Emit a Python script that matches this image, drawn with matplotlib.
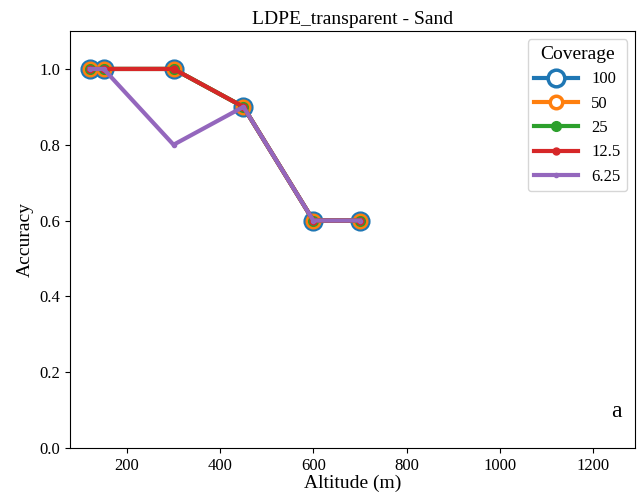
import numpy as np
import matplotlib
matplotlib.use("Agg")
import matplotlib.pyplot as plt

plt.rcParams['font.family'] = ['Liberation Serif', 'DejaVu Serif']

# data
altitude = [120, 150, 300, 450, 600, 700]
coverage = ['100', '50', '25', '12.5', '6.25']
acc_100 = [1.0, 1.0, 1.0, 0.9, 0.6, 0.6]
acc_50 = [1.0, 1.0, 1.0, 0.9, 0.6, 0.6]
acc_25 = [1.0, 1.0, 1.0, 0.9, 0.6, 0.6]
acc_12_5 = [1.0, 1.0, 1.0, 0.9, 0.6, 0.6]
acc_6_25 = [1.0, 1.0, 0.8, 0.9, 0.6, 0.6]
series = [acc_100, acc_50, acc_25, acc_12_5, acc_6_25]

colors = ['#1f77b4', '#ff7f0e', '#2ca02c', '#d62728', '#9467bd']
sizes = [12, 9, 7, 5, 3]
faces = ['white', 'white', None, None, None]

fig = plt.figure(figsize=(6.43, 5.01), dpi=100)
ax = fig.add_axes([0.109, 0.106, 0.879, 0.832])

for lab, vals, c, ms, fc in zip(coverage, series, colors, sizes, faces):
    ax.plot(altitude, vals, '-o', color=c, lw=3, ms=ms,
            mfc=fc if fc else c, mec=c, mew=2.5 if fc else 1, label=lab)

ax.set_xlim(78, 1291)
ax.set_ylim(0, 1.1)
ax.set_xticks([200, 400, 600, 800, 1000, 1200])
ax.set_yticks([0.0, 0.2, 0.4, 0.6, 0.8, 1.0])
ax.tick_params(labelsize=12)
ax.set_xlabel('Altitude (m)', fontsize=14, labelpad=1)
ax.set_ylabel('Accuracy', fontsize=14)
ax.set_title('LDPE_transparent - Sand', fontsize=14, pad=5)
ax.text(0.967, 0.087, 'a', transform=ax.transAxes, fontsize=17, ha='center', va='center')
ax.legend(title='Coverage', loc='upper right', fontsize=12, title_fontsize=14,
          handlelength=2.6)

fig.savefig('out.png', dpi=100)
